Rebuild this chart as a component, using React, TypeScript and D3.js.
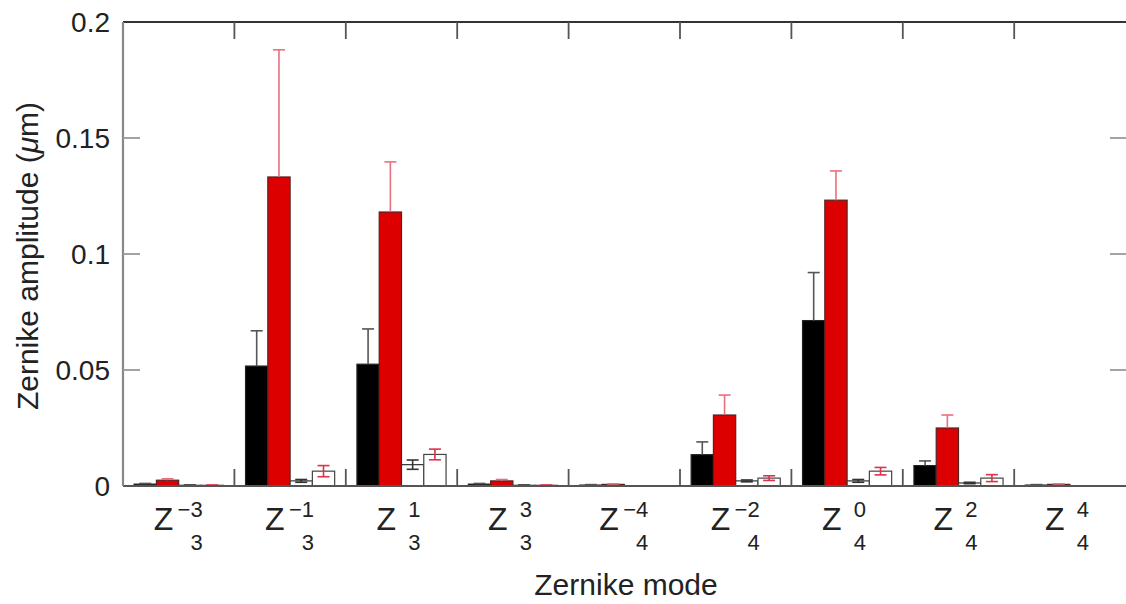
import React from "react";
import * as d3 from "d3";

const modeN = [3, 3, 3, 3, 4, 4, 4, 4, 4];
const modeM = [-3, -1, 1, 3, -4, -2, 0, 2, 4];
const categories = modeN.map((n, i) => `Z${n}^${modeM[i]}`);

const blackVals = [0.0008, 0.0517, 0.0525, 0.0008, 0.0004, 0.0135, 0.0713, 0.0088, 0.0004];
const blackErr = [0.0003, 0.0152, 0.0152, 0.0003, 0.0002, 0.0055, 0.0207, 0.002, 0.0002];
const redVals = [0.0025, 0.1332, 0.1181, 0.0022, 0.0007, 0.0306, 0.1232, 0.025, 0.0007];
const redErr = [0.0006, 0.0548, 0.0216, 0.0006, 0.0002, 0.0086, 0.0126, 0.0056, 0.0002];
const thirdVals = [0.0003, 0.0022, 0.0092, 0.0003, 0.0001, 0.0022, 0.0022, 0.0013, 0.0001];
const thirdErr = [0.0001, 0.0006, 0.002, 0.0001, 0, 0.0004, 0.0006, 0.0003, 0];
const fourthVals = [0.0003, 0.0064, 0.0136, 0.0003, 0.0001, 0.0034, 0.0064, 0.0034, 0.0001];
const fourthErr = [0.0001, 0.0024, 0.0023, 0.0001, 0, 0.001, 0.0016, 0.0015, 0];

const yTicks = [0, 0.05, 0.1, 0.15, 0.2];
const yTickLabels = ["0", "0.05", "0.1", "0.15", "0.2"];

const series = [
  { vals: blackVals, err: blackErr, fill: "#000000", stroke: "#222", errColor: "#555", upperOnly: true },
  { vals: redVals, err: redErr, fill: "#dd0000", stroke: "#552222", errColor: "#e8707c", upperOnly: true },
  { vals: thirdVals, err: thirdErr, fill: "#ffffff", stroke: "#333", errColor: "#333", upperOnly: false },
  { vals: fourthVals, err: fourthErr, fill: "#ffffff", stroke: "#444", errColor: "#e0304a", upperOnly: false },
];

const W = 1126;
const H = 604;
const left = 123;
const right = 1125.6;
const top = 22;
const bottom = 486;
const font = "'Liberation Sans', Arial, Helvetica, sans-serif";

export default function App() {
  const x = d3.scaleBand<string>().domain(categories).range([left, right]).padding(0);
  const xs = d3
    .scaleBand<number>()
    .domain([0, 1, 2, 3])
    .range([0, x.bandwidth()])
    .paddingInner(0)
    .paddingOuter(0.5);
  const y = d3.scaleLinear().domain([0, 0.2]).range([bottom, top]);
  const bw = xs.bandwidth();
  const cap = 6;

  const separators = categories.slice(1).map((c) => x(c) as number);

  return (
    <svg
      width={W}
      height={H}
      style={{ position: "absolute", left: 0, top: 0, background: "#fff" }}
      fontFamily={font}
    >
      <rect x={0} y={0} width={W} height={H} fill="#fff" />
      {/* bars */}
      {series.map((s, si) =>
        categories.map((c, i) => {
          const bx = (x(c) as number) + (xs(si) as number);
          return (
            <rect
              key={`b${si}-${i}`}
              x={bx}
              y={y(s.vals[i])}
              width={bw}
              height={bottom - y(s.vals[i])}
              fill={s.fill}
              stroke={s.stroke}
              strokeWidth={1.2}
            />
          );
        })
      )}
      {/* error bars */}
      {series.map((s, si) =>
        categories.map((c, i) => {
          if (s.err[i] <= 0) return null;
          const cx = (x(c) as number) + (xs(si) as number) + bw / 2;
          const y1 = y(s.vals[i] + s.err[i]);
          const y0 = s.upperOnly ? y(s.vals[i]) : y(Math.max(0, s.vals[i] - s.err[i]));
          return (
            <g key={`e${si}-${i}`} stroke={s.errColor} strokeWidth={1.6}>
              <line x1={cx} x2={cx} y1={y0} y2={y1} />
              <line x1={cx - cap} x2={cx + cap} y1={y1} y2={y1} />
              {!s.upperOnly && <line x1={cx - cap} x2={cx + cap} y1={y0} y2={y0} />}
            </g>
          );
        })
      )}
      {/* frame */}
      <line x1={left} x2={W + 2} y1={top} y2={top} stroke="#333" strokeWidth={2} />
      <line x1={left} x2={W + 2} y1={bottom} y2={bottom} stroke="#555" strokeWidth={1.8} />
      <line x1={left} x2={left} y1={top} y2={bottom} stroke="#888" strokeWidth={2.2} />
      {/* separator ticks */}
      {separators.map((sx, i) => (
        <g key={`s${i}`} stroke="#555" strokeWidth={1.8}>
          <line x1={sx} x2={sx} y1={top} y2={top + 17} />
          <line x1={sx} x2={sx} y1={bottom} y2={bottom - 17} />
        </g>
      ))}
      {/* y ticks */}
      {yTicks.map((t, i) => (
        <g key={`y${i}`}>
          {i > 0 && i < yTicks.length - 1 && (
            <>
              <line x1={left} x2={left + 17} y1={y(t)} y2={y(t)} stroke="#999" strokeWidth={1.8} />
              <line x1={W - 16} x2={W} y1={y(t)} y2={y(t)} stroke="#999" strokeWidth={1.8} />
            </>
          )}
          <text x={110} y={y(t) + 10} textAnchor="end" fontSize={28} fill="#222">
            {yTickLabels[i]}
          </text>
        </g>
      ))}
      {/* x tick labels */}
      {categories.map((c, i) => {
        const cx = (x(c) as number) + x.bandwidth() / 2;
        const m = modeM[i];
        const supEnd = cx + (m < 0 ? 24 : 19);
        const supText = m < 0 ? `\u2212${Math.abs(m)}` : `${m}`;
        return (
          <g key={`xl${i}`} fill="#222">
            <text x={cx - 25} y={530} fontSize={32}>
              Z
            </text>
            <text x={supEnd} y={517} fontSize={22} textAnchor="end">
              {supText}
            </text>
            <text x={supEnd} y={550} fontSize={22} textAnchor="end">
              {modeN[i]}
            </text>
          </g>
        );
      })}
      {/* axis titles */}
      <text x={626} y={595} textAnchor="middle" fontSize={30} fill="#222">
        Zernike mode
      </text>
      <text
        transform={`translate(38,256) rotate(-90)`}
        textAnchor="middle"
        fontSize={30}
        fill="#222"
      >
        Zernike amplitude (<tspan fontStyle="italic">μ</tspan>m)
      </text>
    </svg>
  );
}
